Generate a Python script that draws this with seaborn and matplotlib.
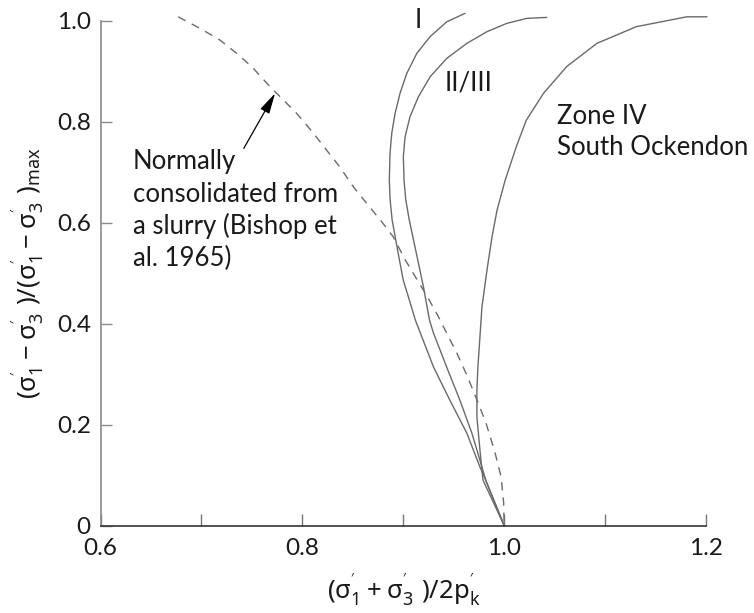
import matplotlib
matplotlib.use("Agg")
import matplotlib.pyplot as plt
import seaborn as sns
import numpy as np
import pandas as pd

# ---------------- data ----------------
bishop_x = [0.677, 0.6986, 0.7184, 0.735, 0.750, 0.768, 0.7796, 0.7945, 0.811, 0.824,
            0.837, 0.8505, 0.8638, 0.8787, 0.890, 0.902, 0.914, 0.924, 0.935, 0.943,
            0.953, 0.963, 0.973, 0.982, 0.991, 0.997, 0.9995, 1.000]
bishop_y = [1.0075, 0.9846, 0.9614, 0.935, 0.9085, 0.869, 0.846, 0.816, 0.777, 0.7436,
            0.7105, 0.671, 0.638, 0.6016, 0.572, 0.526, 0.486, 0.453, 0.413, 0.381,
            0.342, 0.298, 0.249, 0.203, 0.144, 0.096, 0.045, 0.0]

zone1_x = [0.9612, 0.9431, 0.9265, 0.9134, 0.9035, 0.8968, 0.8919, 0.8886, 0.8869, 0.8862,
           0.887, 0.889, 0.895, 0.900, 0.906, 0.912, 0.917, 0.930, 0.946, 0.963,
           0.976, 0.983, 1.000]
zone1_y = [1.0143, 0.9976, 0.968, 0.935, 0.8954, 0.8558, 0.816, 0.7766, 0.737, 0.684,
           0.645, 0.605, 0.539, 0.486, 0.447, 0.407, 0.381, 0.314, 0.249, 0.183,
           0.116, 0.084, 0.0]

zone23_x = [1.0422, 1.0224, 1.0026, 0.9827, 0.963, 0.9431, 0.9266, 0.915, 0.9067, 0.9018,
            0.9001, 0.9008, 0.9025, 0.906, 0.913, 0.920, 0.926, 0.930, 0.943, 0.956,
            0.968, 0.978, 0.982, 1.000]
zone23_y = [1.0063, 1.0044, 0.9945, 0.9778, 0.9549, 0.9251, 0.8887, 0.849, 0.8095, 0.7699,
            0.7303, 0.684, 0.645, 0.605, 0.539, 0.473, 0.407, 0.381, 0.314, 0.249,
            0.183, 0.116, 0.088, 0.0]

zone4_x = [1.201, 1.181, 1.131, 1.092, 1.062, 1.039, 1.022, 1.012, 1.001, 0.993,
           0.988, 0.983, 0.978, 0.974, 0.973, 0.973, 0.976, 0.979, 1.000]
zone4_y = [1.0075, 1.0075, 0.988, 0.955, 0.909, 0.856, 0.803, 0.750, 0.684, 0.625,
           0.572, 0.506, 0.433, 0.314, 0.268, 0.215, 0.150, 0.090, 0.0]

x_major = [0.6, 0.8, 1.0, 1.2]
x_major_labels = ["0.6", "0.8", "1.0", "1.2"]
x_minor = [0.7, 0.9, 1.1]
y_ticks = [0.0, 0.2, 0.4, 0.6, 0.8, 1.0]
y_tick_labels = ["0", "0.2", "0.4", "0.6", "0.8", "1.0"]

annot_lines = ["Normally", "consolidated from", "a slurry (Bishop et", "al. 1965)"]
zone4_lines = ["Zone IV", "South Ockendon"]

# ---------------- style ----------------
sns.set_theme(style="white")
plt.rcParams["font.family"] = ["Lato", "DejaVu Sans"]
plt.rcParams["mathtext.fontset"] = "custom"
plt.rcParams["mathtext.rm"] = "Noto Sans"
plt.rcParams["mathtext.it"] = "Noto Sans"
plt.rcParams["mathtext.default"] = "rm"

FS = 18.5
TFS = 17.5
TXT = "#1a1a1a"
LINE = "#6a6a6a"

fig = plt.figure(figsize=(7.54, 6.13), dpi=100)
ax = fig.add_axes([0.1333, 0.1427, 0.8030, 0.8237])

def draw(xs, ys, dashed=False):
    df = pd.DataFrame({"x": xs, "y": ys})
    sns.lineplot(data=df, x="x", y="y", sort=False, estimator=None, ax=ax,
                 color=LINE, lw=1.0, clip_on=False,
                 linestyle=(0, (6, 5)) if dashed else "-")

draw(bishop_x, bishop_y, dashed=True)
draw(zone1_x, zone1_y)
draw(zone23_x, zone23_y)
draw(zone4_x, zone4_y)

ax.set_xlim(0.6, 1.2)
ax.set_ylim(0.0, 1.0)

ax.set_xticks(x_major)
ax.set_xticklabels(x_major_labels)
ax.set_xticks(x_minor, minor=True)
ax.set_yticks(y_ticks)
ax.set_yticklabels(y_tick_labels)

for s in ["top", "right"]:
    ax.spines[s].set_visible(False)
ax.spines["left"].set_color("#8a8a8a")
ax.spines["left"].set_linewidth(1.2)
ax.spines["bottom"].set_color("#333333")
ax.spines["bottom"].set_linewidth(1.2)

ax.tick_params(axis="x", which="both", direction="in", length=9, width=1.0,
               color="#777777", labelsize=TFS, labelcolor=TXT, pad=9, bottom=True)
ax.tick_params(axis="y", which="both", direction="in", length=8, width=1.0,
               color="#8a8a8a", labelsize=TFS, labelcolor=TXT, pad=7, left=True)

ax.set_xlabel(r"$(\sigma_1^{'} + \sigma_3^{'}\ )/2p_k^{'}$", fontsize=FS, color=TXT, labelpad=9)
ax.set_ylabel(r"$(\sigma_1^{'} - \sigma_3^{'}\ )/(\sigma_1^{'} - \sigma_3^{'}\ )_{max}$",
              fontsize=FS, color=TXT, labelpad=8)

# curve labels
ax.text(0.915, 0.9846, "I", fontsize=FS, color=TXT, ha="center", va="baseline")
ax.text(0.9414, 0.862, "II/III", fontsize=FS, color=TXT, ha="left", va="baseline")
for txt, yy in zip(zone4_lines, [0.796, 0.734]):
    ax.text(1.0527, yy, txt, fontsize=FS, color=TXT, ha="left", va="baseline", clip_on=False)

for txt, yy in zip(annot_lines, [0.707, 0.6416, 0.577, 0.513]):
    ax.text(0.632, yy, txt, fontsize=FS, color=TXT, ha="left", va="baseline")

ax.annotate("", xy=(0.773, 0.856), xytext=(0.742, 0.747),
            arrowprops=dict(arrowstyle="-|>,head_length=0.9,head_width=0.22",
                            color="black", lw=0.9, mutation_scale=14,
                            shrinkA=0, shrinkB=0))

fig.savefig("out.png", dpi=100)
